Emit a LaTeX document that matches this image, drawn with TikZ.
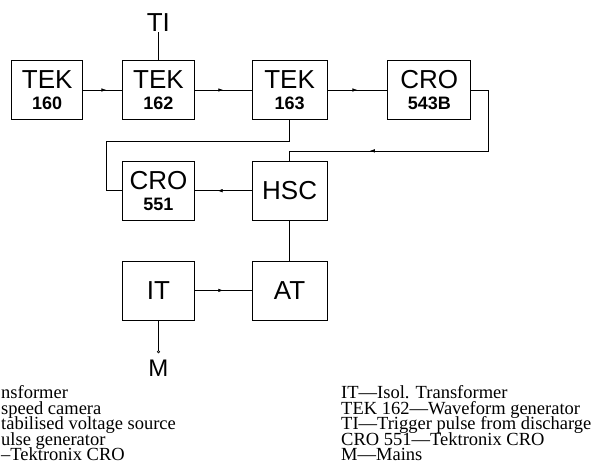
\documentclass[tikz,border=0pt]{standalone}
\usepackage{fontspec}
\setmainfont{Liberation Serif}
\setsansfont{Liberation Sans}
\usetikzlibrary{arrows.meta,positioning,decorations.markings}
\setlength{\lineskiplimit}{-20pt}

\begin{document}
\begin{tikzpicture}[x=1pt, y=-1pt,
    box/.style={draw, line width=0.7pt, minimum width=72pt, minimum height=59pt, inner sep=0pt, align=center, font=\sffamily\fontsize{26}{21}\selectfont},
    lbl/.style={inner sep=0pt, font=\sffamily\fontsize{26}{26}\selectfont},
    legend/.style={inner sep=0pt, align=left, anchor=north west, font=\fontsize{18.5}{15.5}\selectfont},
    link/.style={line width=0.6pt},
    midarrow/.style={link, postaction={decorate}, decoration={markings, mark=at position #1 with {\arrow{Latex[length=5pt,width=3.5pt]}}}},
    midarrow/.default=0.5
  ]
  \useasboundingbox (0,0) rectangle (612,473);
  \node[box, minimum width=71pt] (tek160) at (47.2,90) {TEK\\{\bfseries\fontsize{18}{21}\selectfont 160}};
  \node[box, right=39pt of tek160] (tek162) {TEK\\{\bfseries\fontsize{18}{21}\selectfont 162}};
  \node[box, minimum width=75pt, right=57pt of tek162] (tek163) {TEK\\{\bfseries\fontsize{18}{21}\selectfont 163}};
  \node[box, minimum width=83pt, right=60pt of tek163] (cro543) {CRO\\{\bfseries\fontsize{18}{21}\selectfont 543B}};
  \node[box, below=41pt of tek162] (cro551) {CRO\\{\bfseries\fontsize{18}{21}\selectfont 551}};
  \node[box, minimum width=75pt, below=41pt of tek163] (hsc) {HSC};
  \node[box, below=40pt of cro551] (it) {IT};
  \node[box, minimum width=75pt, below=40pt of hsc] (at) {AT};
  \node[lbl, above=28pt of tek162] (ti) {TI};
  \coordinate[below=33pt of it.south] (mend);
  \node[lbl, font=\sffamily\fontsize{24}{24}\selectfont, below=7pt of mend] (mains) {M};
  \coordinate[right=17pt of cro543.east] (c1);
  \coordinate[above=10pt of hsc.north] (c2);
  \coordinate[below=21pt of tek163.south] (c3);
  \coordinate[left=16pt of cro551.west] (c4);

  \draw[midarrow=0.6] (tek160) -- (tek162);
  \draw[midarrow] (tek162) -- (tek163);
  \draw[midarrow] (tek163) -- (cro543);
  \draw[midarrow=0.71] (cro543.east) -- (c1) |- (c2);
  \draw[link] (c2) -- (hsc.north);
  \draw[link] (tek163.south) -- (c3) -| (c4) -- (cro551.west);
  \draw[midarrow=0.6] (hsc) -- (cro551);
  \draw[link] (hsc) -- (at);
  \draw[midarrow] (it) -- (at);
  \draw[link] (ti) -- (tek162);
  \draw[link, -{Circle[open,length=3pt]}] (it) -- (mend);

  \node[legend] (keyleft) at (1,385.4) {nsformer\\speed camera\\tabilised voltage source\\ulse generator\\–Tektronix CRO};
  \node[legend] (keyright) at (341,385.4) {IT—Isol. Transformer\\TEK 162—Waveform generator\\TI—Trigger pulse from discharge\\CRO 551—Tektronix CRO\\M—Mains};
\end{tikzpicture}
\end{document}
